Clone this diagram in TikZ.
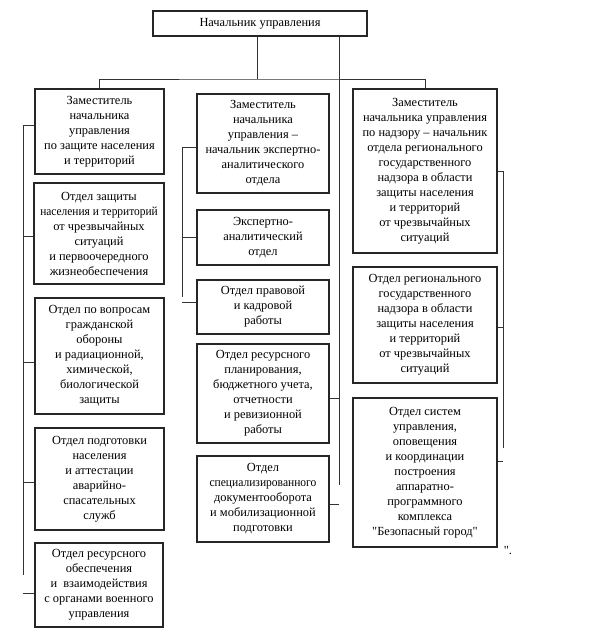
\documentclass[tikz,border=0pt]{standalone}
\usepackage{fontspec}
\usepackage{graphicx}
\setmainfont{Liberation Serif}
\begin{document}
\begin{tikzpicture}[x=1pt, y=-1pt,
	box/.style={draw=black!85, line width=1.1pt, align=center, inner sep=0pt, font=\fontsize{12.4}{15}\selectfont},
	link/.style={draw=black!80, line width=0.9pt}]
\useasboundingbox (0,0) rectangle (613,642);
\node[box, minimum width=214pt, minimum height=25pt] (chief) at (260,23.5) {Начальник управления};
% left column
\node[box, minimum width=129pt, minimum height=85pt] (zamL) at (99.5,131.5) {Заместитель\\начальника\\управления\\по защите населения\\и территорий};
\node[box, minimum width=130pt, minimum height=101pt] (otdL2) at (99,233.5) {Отдел защиты\\\scalebox{0.92}[1]{населения и территорий}\\от чрезвычайных\\ситуаций\\и первоочередного\\жизнеобеспечения};
\node[box, minimum width=129pt, minimum height=116pt] (otdL3) at (99.5,356) {Отдел по вопросам\\гражданской\\обороны\\и радиационной,\\химической,\\биологической\\защиты};
\node[box, minimum width=129pt, minimum height=102pt] (otdL4) at (99.5,479) {Отдел подготовки\\населения\\и аттестации\\аварийно-\\спасательных\\служб};
\node[box, minimum width=128pt, minimum height=84pt] (otdL5) at (99,585) {Отдел ресурсного\\обеспечения\\и~~взаимодействия\\с органами военного\\управления};
% middle column
\node[box, minimum width=132pt, minimum height=99pt] (zamM) at (263,143.5) {Заместитель\\начальника\\управления --\\начальник экспертно-\\аналитического\\отдела};
\node[box, minimum width=132pt, minimum height=55pt] (otdM2) at (263,237.5) {Экспертно-\\аналитический\\отдел};
\node[box, minimum width=132pt, minimum height=54pt] (otdM3) at (263,307) {Отдел правовой\\и кадровой\\работы};
\node[box, minimum width=132pt, minimum height=99pt] (otdM4) at (263,393.5) {Отдел ресурсного\\планирования,\\бюджетного учета,\\отчетности\\и ревизионной\\работы};
\node[box, minimum width=132pt, minimum height=86pt] (otdM5) at (263,499) {Отдел\\\scalebox{0.93}[1]{специализированного}\\документооборота\\и мобилизационной\\подготовки};
% right column
\node[box, minimum width=144pt, minimum height=164pt] (zamR) at (425,171) {Заместитель\\начальника управления\\по надзору -- начальник\\отдела регионального\\государственного\\надзора в области\\защиты населения\\и территорий\\от чрезвычайных\\ситуаций};
\node[box, minimum width=144pt, minimum height=116pt] (otdR2) at (425,325) {Отдел регионального\\государственного\\надзора в области\\защиты населения\\и территорий\\от чрезвычайных\\ситуаций};
\node[box, minimum width=144pt, minimum height=149pt] (otdR3) at (425,472.5) {Отдел систем\\управления,\\оповещения\\и координации\\построения\\аппаратно-\\программного\\комплекса\\\textquotedbl Безопасный город\textquotedbl};
\node[font=\fontsize{12.4}{15}\selectfont, inner sep=0pt] (endmark) at (508,551) {\textquotedbl.};
% connectors
\coordinate (bus) at (257,79);
\coordinate (lineL) at (23,575);
\coordinate (lineM) at (182,297);
\coordinate (lineC) at (339,485);
\coordinate (lineR) at (503,448);
\draw[link] (chief.south -| bus) -- (bus);
\draw[link] (zamL.north) |- (bus) -| (zamR.north);
\draw[link] (chief.south -| lineC) -- (lineC);
\draw[link] ([yshift=6pt]zamL.west) -| (lineL);
\foreach \n/\s in {otdL2/-2.5, otdL3/-6, otdL4/-3, otdL5/-8}
	\draw[link] ([yshift=\s pt]\n.west) -- ([yshift=\s pt]\n.west -| lineL);
\draw[link] ([yshift=-3.5pt]zamM.west) -| (lineM);
\foreach \n/\s in {otdM2/0, otdM3/5}
	\draw[link] ([yshift=\s pt]\n.west) -- ([yshift=\s pt]\n.west -| lineM);
\foreach \n/\s in {otdM4/-4.5, otdM5/-5}
	\draw[link] ([yshift=\s pt]\n.east) -- ([yshift=\s pt]\n.east -| lineC);
\draw[link] (zamR.east) -| (lineR);
\foreach \n/\s in {otdR2/-2, otdR3/11}
	\draw[link] ([yshift=\s pt]\n.east) -- ([yshift=\s pt]\n.east -| lineR);
\end{tikzpicture}
\end{document}
